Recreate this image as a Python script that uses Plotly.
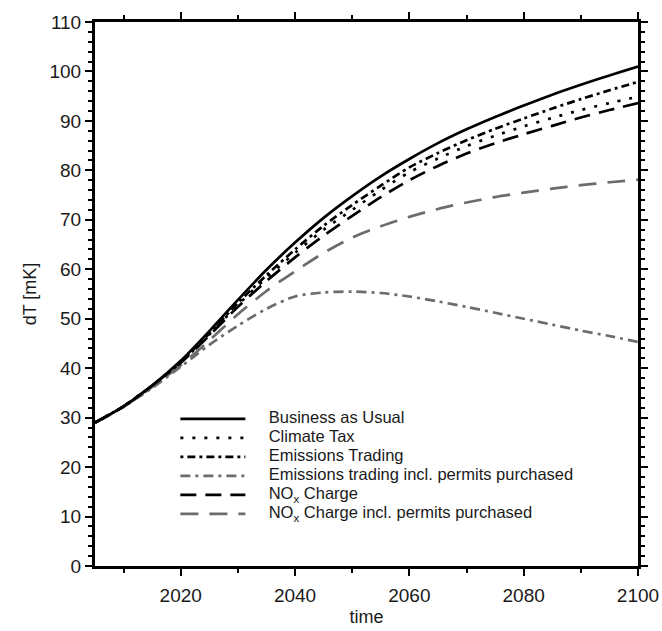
import plotly.graph_objects as go

years = [2005, 2010, 2015, 2020, 2025, 2030, 2035, 2040, 2045, 2050,
         2055, 2060, 2065, 2070, 2075, 2080, 2085, 2090, 2095, 2100]

bau = [29.0, 32.3, 36.5, 41.5, 47.5, 53.8, 59.9, 65.4, 70.4, 74.8,
       78.8, 82.3, 85.5, 88.3, 90.8, 93.1, 95.3, 97.3, 99.2, 101.0]
climate_tax = [29.0, 32.3, 36.5, 41.2, 46.8, 52.8, 58.3, 63.3, 68.0, 72.0,
               76.0, 79.6, 82.4, 84.9, 87.0, 88.9, 90.6, 92.2, 93.6, 94.9]
emis_trading = [29.0, 32.3, 36.5, 41.3, 47.0, 53.2, 58.8, 64.0, 68.8, 73.0,
                76.9, 80.6, 83.5, 86.1, 88.4, 90.5, 92.5, 94.4, 96.2, 97.9]
emis_trading_permits = [29.0, 32.2, 36.0, 40.3, 44.7, 48.6, 52.0, 54.5, 55.3, 55.5,
                        55.2, 54.5, 53.5, 52.4, 51.2, 50.0, 48.8, 47.6, 46.5, 45.3]
nox_charge = [29.0, 32.3, 36.5, 41.1, 46.6, 52.4, 57.6, 62.4, 66.8, 70.8,
              74.6, 78.0, 80.9, 83.4, 85.5, 87.3, 89.0, 90.7, 92.2, 93.6]
nox_charge_permits = [29.0, 32.2, 36.2, 40.6, 45.6, 50.9, 55.6, 59.6, 63.3, 66.4,
                      68.7, 70.6, 72.2, 73.5, 74.6, 75.5, 76.3, 77.0, 77.6, 78.1]

names = ["Business as Usual", "Climate Tax", "Emissions Trading",
         "Emissions trading incl. permits purchased", "NO<sub>x</sub> Charge",
         "NO<sub>x</sub> Charge incl. permits purchased"]

BLACK = "#000000"
TEXT = "#1a1a1a"
GRAY = "#6c6c6c"
FONT = "Liberation Sans"
LEGEND_TEXT_SIZE = 16.5


def legend_label(text):
    pad = "\u00a0" * 4
    return f'<span style="font-size:{LEGEND_TEXT_SIZE}px">{pad}{text}</span>'


series = [
    (names[3], emis_trading_permits, GRAY, "10px,5px,3px,5px", 4),
    (names[5], nox_charge_permits, GRAY, "18px,11px", 6),
    (names[4], nox_charge, BLACK, "16px,9px", 5),
    (names[1], climate_tax, BLACK, "3px,9px", 2),
    (names[2], emis_trading, BLACK, "3px,4px,8px,4px", 3),
    (names[0], bau, BLACK, "solid", 1),
]

fig = go.Figure()
for name, vals, color, dash, rank in series:
    fig.add_trace(go.Scatter(
        x=years, y=vals, name=legend_label(name), mode="lines",
        line=dict(color=color, width=2.7, dash=dash, shape="spline", smoothing=0.8),
        legendrank=rank,
    ))

axis_common = dict(
    showline=True, linecolor=BLACK, linewidth=3, mirror="ticks",
    ticks="outside", ticklen=7, tickwidth=2, tickcolor=BLACK,
    showgrid=False, zeroline=False, automargin=False,
    tickfont=dict(family=FONT, size=19, color=TEXT),
)

fig.update_xaxes(
    range=[2005, 2100], tick0=2000, dtick=20,
    minor=dict(dtick=10, tick0=2000, ticklen=4, tickwidth=2, tickcolor=BLACK, ticks="outside"),
    ticklabelstandoff=3,
    title=dict(text="time", font=dict(family=FONT, size=18, color=TEXT), standoff=6),
    **axis_common,
)
fig.update_yaxes(
    range=[0, 110], tick0=0, dtick=10,
    minor=dict(dtick=2, tick0=0, ticklen=4, tickwidth=2, tickcolor=BLACK, ticks="outside"),
    title=dict(text="dT [mK]", font=dict(family=FONT, size=18, color=TEXT), standoff=9),
    **axis_common,
)

fig.update_layout(
    width=662, height=631,
    margin=dict(l=95, r=24, t=22, b=65, autoexpand=False),
    plot_bgcolor="white", paper_bgcolor="white",
    showlegend=True,
    legend=dict(
        x=0.148, y=0.297, xanchor="left", yanchor="top",
        bgcolor="rgba(0,0,0,0)", borderwidth=0,
        font=dict(family=FONT, size=11, color=TEXT),
        itemwidth=65, traceorder="normal",
    ),
)

fig.write_html(
    "out.html",
    config={"displayModeBar": False},
    post_script="document.documentElement.style.margin='0';document.body.style.margin='0';"
                "document.documentElement.style.overflow='hidden';document.body.style.overflow='hidden';",
)
